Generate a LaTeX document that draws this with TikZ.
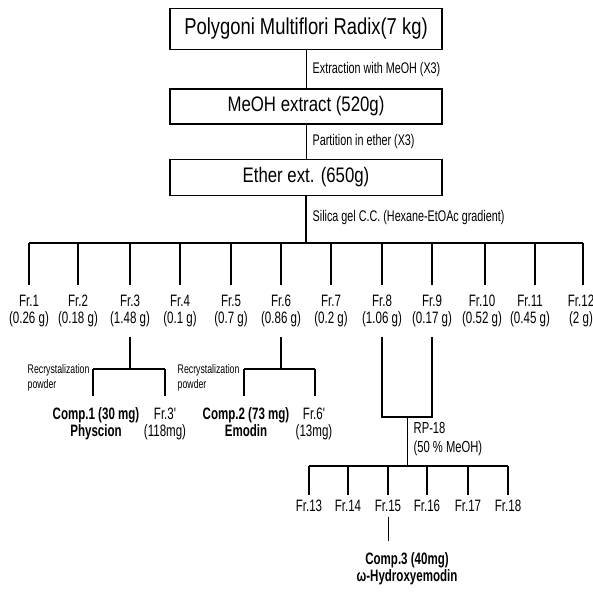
\documentclass[tikz,border=0pt]{standalone}
\usepackage{fontspec}
\setmainfont{Liberation Sans}[FakeStretch=0.8]
\newfontfamily\narrowfont{Liberation Sans}[FakeStretch=0.7]
\usetikzlibrary{positioning}
\begin{document}
\begin{tikzpicture}[x=1pt, y=-1pt, line width=1.4pt]
        \tikzstyle{box}=[rectangle,draw=black,line width=1.5pt,minimum width=272pt,inner sep=0pt,align=center]
        \tikzstyle{cond}=[anchor=west,font=\narrowfont\fontsize{15.4}{18}\selectfont,inner sep=0pt]
        \tikzstyle{frac}=[anchor=north,align=center,font=\narrowfont\fontsize{16.5}{17}\selectfont,inner sep=2pt,outer sep=8pt]
        \tikzstyle{subfrac}=[frac,outer sep=3pt]
        \tikzstyle{comp}=[anchor=north,align=center,font=\narrowfont\bfseries\fontsize{16.5}{17}\selectfont,inner sep=2pt,outer sep=10pt]
        \tikzstyle{note}=[anchor=north west,align=left,font=\narrowfont\fontsize{12.5}{14.5}\selectfont,inner sep=0pt]
        \tikzstyle{bus}=[line width=2.2pt]
        \tikzstyle{thin}=[line width=1pt]

        \useasboundingbox (0,0) rectangle (593,591);

        % extraction steps
        \node[box, minimum height=41pt, font=\fontsize{23}{26}\selectfont] (herb) at (306,29) {Polygoni Multiflori Radix(7 kg)};
        \node[box, minimum height=35pt, font=\fontsize{21}{24}\selectfont, below=38pt of herb] (meoh) {MeOH extract (520g)};
        \node[box, minimum height=36pt, font=\fontsize{21}{24}\selectfont, below=34pt of meoh] (ether) {Ether ext. (650g)};

        \draw[thin] (herb) -- (meoh);
        \draw[thin] (meoh) -- (ether);
        \node[cond] (extr) at (312,70) {Extraction with MeOH (X3)};
        \node[cond] (part) at (312,142) {Partition in ether (X3)};
        \node[cond] (silica) at (312,218) {Silica gel C.C. (Hexane-EtOAc gradient)};

        % silica gel column
        \coordinate (top) at (306,243);
        \coordinate (b1) at (29,243);
        \coordinate (b2) at (78,243);
        \coordinate (b3) at (130,243);
        \coordinate (b4) at (180,243);
        \coordinate (b5) at (231,243);
        \coordinate (b6) at (281,243);
        \coordinate (b7) at (331,243);
        \coordinate (b8) at (382,243);
        \coordinate (b9) at (432,243);
        \coordinate (b10) at (485,243);
        \coordinate (b11) at (535,243);
        \coordinate (b12) at (583,243);
        \draw (ether) -- (top);
        \draw[bus] (b1) -- (b12);

        \node[frac] (fr1) at (29,285) {Fr.1\\(0.26 g)};
        \node[frac] (fr2) at (78,285) {Fr.2\\(0.18 g)};
        \node[frac] (fr3) at (130,285) {Fr.3\\(1.48 g)};
        \node[frac] (fr4) at (180,285) {Fr.4\\(0.1 g)};
        \node[frac] (fr5) at (231,285) {Fr.5\\(0.7 g)};
        \node[frac] (fr6) at (281,285) {Fr.6\\(0.86 g)};
        \node[frac] (fr7) at (331,285) {Fr.7\\(0.2 g)};
        \node[frac] (fr8) at (382,285) {Fr.8\\(1.06 g)};
        \node[frac] (fr9) at (432,285) {Fr.9\\(0.17 g)};
        \node[frac] (fr10) at (482,285) {Fr.10\\(0.52 g)};
        \node[frac] (fr11) at (530,285) {Fr.11\\(0.45 g)};
        \node[frac] (fr12) at (581,285) {Fr.12\\(2 g)};

        \draw (b1) -- (fr1.north -| b1);
        \draw (b2) -- (fr2);
        \draw (b3) -- (fr3);
        \draw (b4) -- (fr4);
        \draw (b5) -- (fr5);
        \draw (b6) -- (fr6);
        \draw (b7) -- (fr7);
        \draw (b8) -- (fr8);
        \draw (b9) -- (fr9);
        \draw (b10) -- (fr10.north -| b10);
        \draw (b11) -- (fr11.north -| b11);
        \draw (b12) -- (fr12.north -| b12);

        % recrystalization of Fr.3 and Fr.6
        \coordinate (r3) at (130,369);
        \coordinate (r3l) at (93,369);
        \coordinate (r3r) at (165,369);
        \node[note] (recr3) at (27,364) {Recrystalization\\powder};
        \node[comp] (comp1) at (96,396) {Comp.1 (30 mg)\\Physcion};
        \node[frac, outer sep=10pt] (fr3p) at (165,396) {Fr.3'\\(118mg)};
        \draw (fr3) -- (r3);
        \draw (r3l) -- (r3r);
        \draw (r3l) -- (r3l |- comp1.north);
        \draw (r3r) -- (fr3p);

        \coordinate (r6) at (281,369);
        \coordinate (r6l) at (244,369);
        \coordinate (r6r) at (315,369);
        \node[note] (recr6) at (177,364) {Recrystalization\\powder};
        \node[comp] (comp2) at (246,396) {Comp.2 (73 mg)\\Emodin};
        \node[frac, outer sep=10pt] (fr6p) at (314,396) {Fr.6'\\(13mg)};
        \draw (fr6) -- (r6);
        \draw (r6l) -- (r6r);
        \draw (r6l) -- (r6l |- comp2.north);
        \draw (r6r) -- (r6r |- fr6p.north);

        % RP-18 of Fr.8 and Fr.9
        \coordinate (r8) at (382,417);
        \coordinate (r9) at (432,417);
        \coordinate (rp) at (407,417);
        \coordinate (rpb) at (407,466);
        \draw (fr8) -- (r8) -- (r9) -- (fr9);
        \draw[thin] (rp) -- (rpb);
        \node[note, font=\narrowfont\fontsize{16}{19}\selectfont] (rp18) at (413,422) {RP-18\\(50 \% MeOH)};

        \coordinate (s13) at (309,466);
        \coordinate (s14) at (348,466);
        \coordinate (s15) at (388,466);
        \coordinate (s16) at (427,466);
        \coordinate (s17) at (468,466);
        \coordinate (s18) at (508,466);
        \draw[line width=1.8pt] (s13) -- (s18);

        \node[subfrac] (fr13) at (309,495) {Fr.13};
        \node[subfrac] (fr14) at (348,495) {Fr.14};
        \node[subfrac] (fr15) at (388,495) {Fr.15};
        \node[subfrac] (fr16) at (427,495) {Fr.16};
        \node[subfrac] (fr17) at (468,495) {Fr.17};
        \node[subfrac] (fr18) at (508,495) {Fr.18};
        \draw (s13) -- (fr13);
        \draw (s14) -- (fr14);
        \draw (s15) -- (fr15);
        \draw (s16) -- (fr16);
        \draw (s17) -- (fr17);
        \draw (s18) -- (fr18);

        \node[comp] (comp3) at (407,541) {Comp.3 (40mg)\\ω-Hydroxyemodin};
        \draw[thin] (fr15) -- (fr15.south |- comp3.north);
    \end{tikzpicture}
\end{document}
